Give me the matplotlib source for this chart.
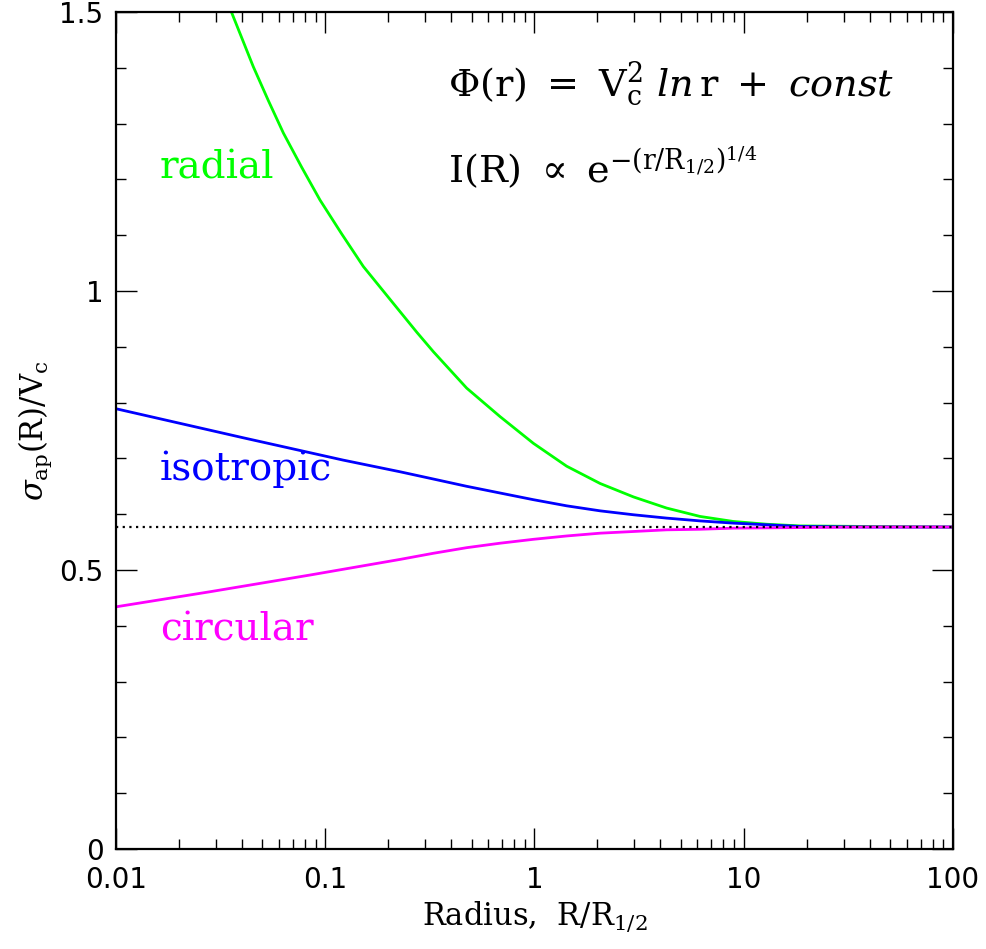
import numpy as np
import matplotlib
matplotlib.use("Agg")
import matplotlib.pyplot as plt
from matplotlib.ticker import FixedLocator, NullFormatter

plt.rcParams["mathtext.fontset"] = "dejavuserif"

# DATA
radial_r = [0.0357, 0.0453, 0.0535, 0.0631, 0.0771, 0.0944, 0.120, 0.152, 0.204, 0.274,
            0.329, 0.474, 0.684, 0.988, 1.425, 2.06, 2.97, 4.28, 6.18, 8.91, 12.9, 18.6, 40.0, 100.0]
radial_s = [1.499, 1.402, 1.341, 1.283, 1.222, 1.163, 1.102, 1.044, 0.985, 0.926,
            0.891, 0.826, 0.775, 0.727, 0.686, 0.655, 0.631, 0.611, 0.596, 0.587, 0.582, 0.579, 0.578, 0.577]

iso_r = [0.01, 0.0405, 0.1216, 0.228, 0.329, 0.474, 0.684, 0.988, 1.425, 2.06, 2.97,
         4.28, 6.18, 8.91, 12.9, 18.6, 40.0, 100.0]
iso_s = [0.789, 0.737, 0.697, 0.676, 0.663, 0.650, 0.638, 0.626, 0.615, 0.606, 0.599,
         0.593, 0.588, 0.584, 0.581, 0.578, 0.577, 0.577]

circ_r = [0.01, 0.0281, 0.0846, 0.228, 0.329, 0.474, 0.684, 0.988, 1.425, 2.06, 2.97,
          4.28, 6.18, 8.91, 18.6, 40.0, 100.0]
circ_s = [0.434, 0.461, 0.491, 0.519, 0.530, 0.540, 0.548, 0.555, 0.561, 0.566, 0.569,
          0.572, 0.573, 0.575, 0.576, 0.577, 0.577]

asymptote = 1 / np.sqrt(3)

x_ticks = [0.01, 0.1, 1, 10, 100]
x_ticklabels = ["0.01", "0.1", "1", "10", "100"]
y_ticks = [0, 0.5, 1, 1.5]
y_ticklabels = ["0", "0.5", "1", "1.5"]

# PLOT
fig = plt.figure(figsize=(9.87, 9.49), dpi=100)
ax = fig.add_axes([116 / 987, 100 / 949, 837 / 987, 837 / 949])

ax.plot(radial_r, radial_s, color="#00ff00", lw=2.0)
ax.plot(iso_r, iso_s, color="#0000ff", lw=2.0)
ax.plot(circ_r, circ_s, color="#ff00ff", lw=2.0)
ax.axhline(asymptote, color="black", lw=1.6, ls=(0, (1, 2)))

ax.set_xscale("log")
ax.set_xlim(0.01, 100)
ax.set_ylim(0, 1.5)

ax.xaxis.set_major_locator(FixedLocator(x_ticks))
ax.set_xticklabels(x_ticklabels)
minor_x = [m * d for d in [0.01, 0.1, 1, 10] for m in range(2, 10)]
ax.xaxis.set_minor_locator(FixedLocator(minor_x))
ax.xaxis.set_minor_formatter(NullFormatter())
ax.yaxis.set_major_locator(FixedLocator(y_ticks))
ax.set_yticklabels(y_ticklabels)
ax.yaxis.set_minor_locator(FixedLocator(np.arange(0, 1.51, 0.1)))

ax.tick_params(which="both", direction="in", top=True, right=True, width=1.0)
ax.tick_params(which="major", length=15, labelsize=20)
ax.tick_params(axis="x", which="major", pad=12)
ax.tick_params(axis="y", which="major", pad=9)
ax.tick_params(which="minor", length=7.5)
for s in ax.spines.values():
    s.set_linewidth(1.6)

ax.set_xlabel(r"Radius,  R/R$_{1/2}$", family="DejaVu Serif", fontsize=22, labelpad=4)
ax.set_ylabel(r"$\sigma_{\rm ap}(\rm R)/\rm V_c$", fontsize=22, labelpad=4)

ax.text(0.0162, 1.22, "radial", color="#00ff00", family="DejaVu Serif", fontsize=28, va="center")
ax.text(0.0162, 0.68, "isotropic", color="#0000ff", family="DejaVu Serif", fontsize=28, va="center")
ax.text(0.0162, 0.392, "circular", color="#ff00ff", family="DejaVu Serif", fontsize=28, va="center")

ax.text(0.397, 0.8996, r"$\Phi(\rm r)\ =\ \rm V_c^2\ \mathit{ln}\,\rm r\ +\ \mathit{const}$",
        transform=ax.transAxes, fontsize=27.5, va="baseline")
ax.text(0.397, 0.7957, r"$\rm I(R)\ \propto\ \rm e^{-(r/R_{1/2})^{1/4}}$",
        transform=ax.transAxes, fontsize=27.5, va="baseline")

plt.savefig("out.png", dpi=100)
plt.close()
